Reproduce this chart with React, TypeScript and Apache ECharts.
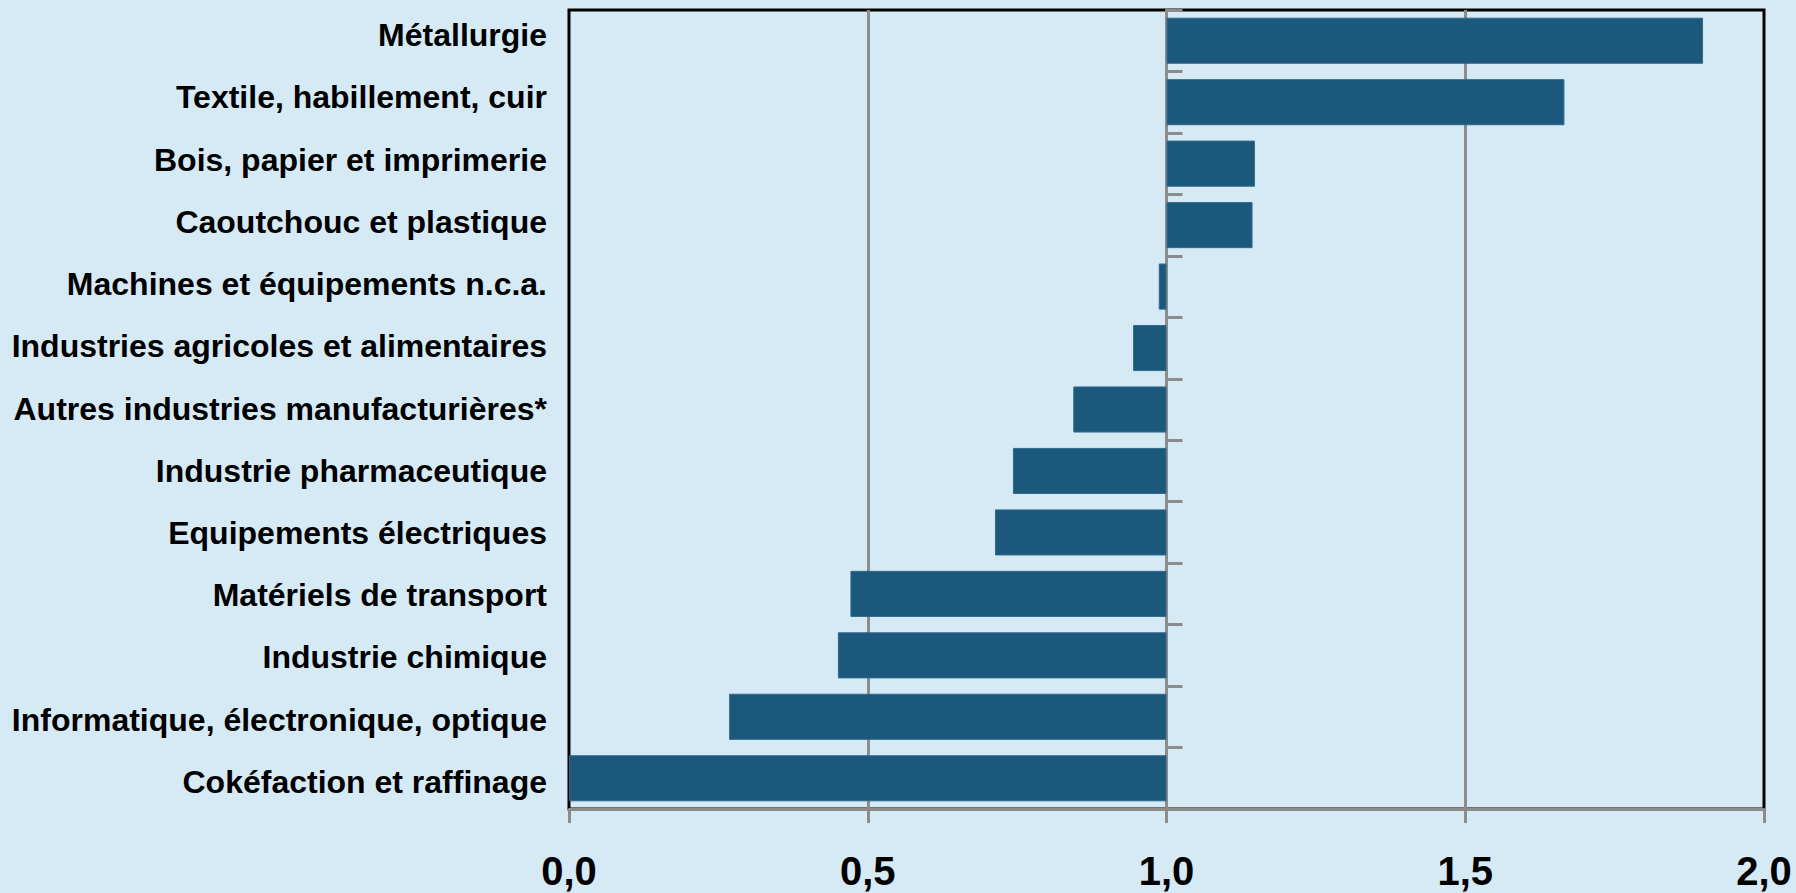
import React, { useEffect, useRef } from "react";
import * as echarts from "echarts";

const categories = [
  "Métallurgie",
  "Textile, habillement, cuir",
  "Bois, papier et imprimerie",
  "Caoutchouc et plastique",
  "Machines et équipements n.c.a.",
  "Industries agricoles et alimentaires",
  "Autres industries manufacturières*",
  "Industrie pharmaceutique",
  "Equipements électriques",
  "Matériels de transport",
  "Industrie chimique",
  "Informatique, électronique, optique",
  "Cokéfaction et raffinage",
];

const values = [1.898, 1.666, 1.148, 1.144, 0.987, 0.944, 0.844, 0.743, 0.713, 0.471, 0.45, 0.268, 0.0];

const reference = 1.0;
const xTicks = { min: 0, max: 2, interval: 0.5 };

const baseValues = values.map((v) => Math.min(v, reference));
const gapValues = values.map((v) => Math.abs(v - reference));

const W = 1796;
const H = 893;
const GRID = { left: 569, right: 32, top: 10, bottom: 84 };
const LABEL_GRID = { left: 569, right: 32, top: 4, bottom: 80 };

export default function App() {
  const ref = useRef<HTMLDivElement>(null);

  useEffect(() => {
    if (!ref.current) return;
    const chart = echarts.init(ref.current, null, { renderer: "svg" });
    const gridWidth = W - GRID.left - GRID.right;
    const refOffset = -((reference - xTicks.min) / (xTicks.max - xTicks.min)) * gridWidth;
    const gray = "#8c8c8c";
    const font = "'Liberation Sans', Arial, Helvetica, sans-serif";

    chart.setOption({
      animation: false,
      backgroundColor: "#d6eaf5",
      grid: [
        {
          left: GRID.left,
          right: GRID.right,
          top: GRID.top,
          bottom: GRID.bottom,
          show: true,
          borderColor: "#000000",
          borderWidth: 3,
          backgroundColor: "transparent",
        },
        {
          left: LABEL_GRID.left,
          right: LABEL_GRID.right,
          top: LABEL_GRID.top,
          bottom: LABEL_GRID.bottom,
          show: false,
        },
      ],
      xAxis: [
        {
          type: "value",
          gridIndex: 0,
          min: xTicks.min,
          max: xTicks.max,
          interval: xTicks.interval,
          axisLine: { show: true, lineStyle: { color: gray, width: 3 } },
          axisTick: { show: true, length: 14, lineStyle: { color: gray, width: 3 } },
          axisLabel: {
            margin: 42,
            fontSize: 40,
            fontWeight: "bold",
            color: "#000000",
            fontFamily: font,
            formatter: (v: number) => v.toFixed(1).replace(".", ","),
          },
          splitLine: {
            show: true,
            showMinLine: false,
            showMaxLine: false,
            lineStyle: { color: gray, width: 3 },
          },
        },
        {
          type: "value",
          gridIndex: 1,
          min: xTicks.min,
          max: xTicks.max,
          show: false,
        },
      ],
      yAxis: [
        {
          type: "category",
          gridIndex: 0,
          data: categories,
          inverse: true,
          position: "left",
          axisLine: { show: false },
          axisTick: { show: false },
          axisLabel: { show: false },
        },
        {
          type: "category",
          gridIndex: 0,
          data: categories,
          inverse: true,
          position: "left",
          offset: refOffset,
          axisLine: { show: true, lineStyle: { color: gray, width: 3 } },
          axisTick: { show: true, inside: true, length: 16, lineStyle: { color: gray, width: 3 } },
          axisLabel: { show: false },
        },
        {
          type: "category",
          gridIndex: 1,
          data: categories,
          inverse: true,
          position: "left",
          axisLine: { show: false },
          axisTick: { show: false },
          splitLine: { show: false },
          axisLabel: {
            margin: 22,
            fontSize: 32,
            fontWeight: "bold",
            color: "#000000",
            fontFamily: font,
          },
        },
      ],
      series: [
        {
          name: "base",
          type: "bar",
          stack: "total",
          xAxisIndex: 0,
          yAxisIndex: 0,
          data: baseValues,
          itemStyle: { color: "rgba(0,0,0,0)" },
          barCategoryGap: "25%",
          silent: true,
        },
        {
          name: "écart",
          type: "bar",
          stack: "total",
          xAxisIndex: 0,
          yAxisIndex: 0,
          data: gapValues,
          itemStyle: { color: "#1c587b", borderColor: "#2f6a8c", borderWidth: 1 },
          barCategoryGap: "25%",
        },
      ],
    });

    return () => chart.dispose();
  }, []);

  return (
    <div
      ref={ref}
      style={{ position: "fixed", left: 0, top: 0, width: W, height: H }}
    />
  );
}
